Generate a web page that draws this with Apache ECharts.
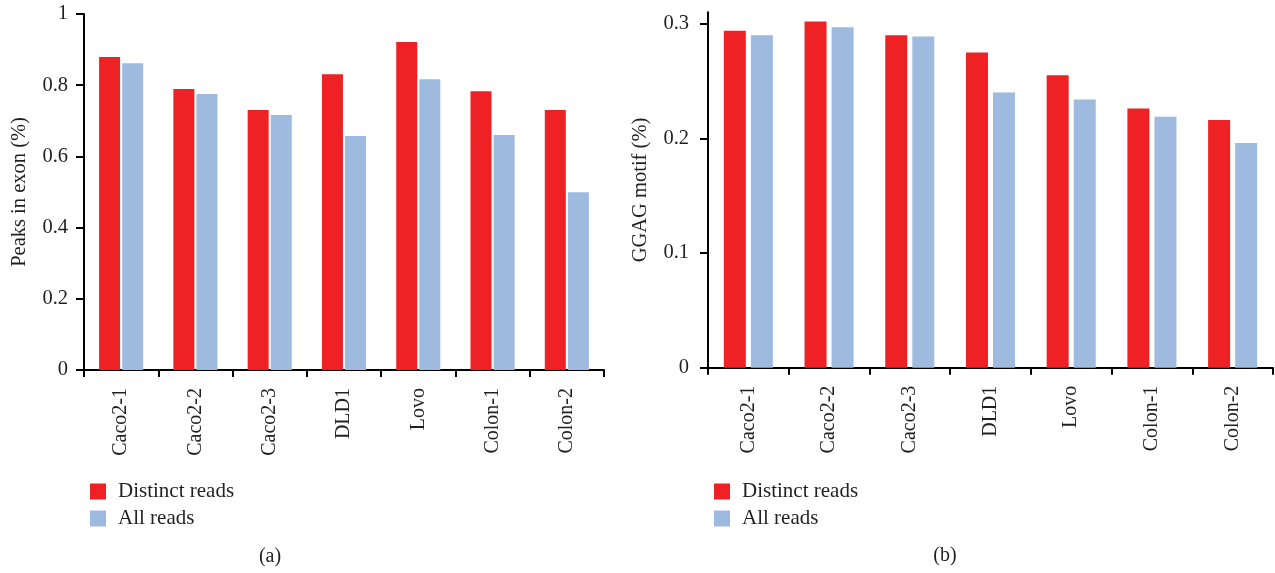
<!DOCTYPE html>
<html><head><meta charset="utf-8">
<script src="https://cdn.jsdelivr.net/npm/echarts@6/dist/echarts.min.js"></script>
<style>html,body{margin:0;padding:0;background:#fff}#c{width:1275px;height:573px}</style>
</head><body><div id="c"></div>
<script>
var categories = ['Caco2-1','Caco2-2','Caco2-3','DLD1','Lovo','Colon-1','Colon-2'];
var seriesNames = ['Distinct reads','All reads'];
var exonDistinct = [0.879,0.789,0.730,0.831,0.921,0.783,0.730];
var exonAll = [0.862,0.775,0.716,0.657,0.817,0.660,0.499];
var ggagDistinct = [0.294,0.302,0.290,0.275,0.255,0.226,0.216];
var ggagAll = [0.290,0.297,0.289,0.240,0.234,0.219,0.196];
var exonTicks = [0,0.2,0.4,0.6,0.8,1];
var ggagTicks = [0,0.1,0.2,0.3];

var RED = '#EE2225', BLUE = '#9EBADF', TXT = '#231F20';
var FONT = 'Liberation Serif';
var chart = echarts.init(document.getElementById('c'));

function xAx(idx){
  return {type:'category', gridIndex:idx, data:categories,
    axisLine:{lineStyle:{color:'#000',width:2}},
    axisTick:{show:true,length:7,lineStyle:{color:'#000',width:2}},
    axisLabel:{rotate:90,margin:18,color:TXT,fontFamily:FONT,fontSize:20}};
}
function yAx(idx,max,interval,name,ticks,margin,gap){
  return {type:'value', gridIndex:idx, min:0, max:max, interval:interval,
    name:name, nameLocation:'middle', nameGap:gap,
    nameTextStyle:{color:TXT,fontFamily:FONT,fontSize:20.5},
    splitLine:{show:false},
    axisLine:{show:true,lineStyle:{color:'#000',width:2}},
    axisTick:{show:true,length:8,customValues:ticks,lineStyle:{color:'#000',width:2}},
    axisLabel:{margin:margin,customValues:ticks,color:TXT,fontFamily:FONT,fontSize:20.5,
      formatter:function(v){ var r=Math.round(v*10)/10; return Math.abs(v-r)<1e-9 && ticks.indexOf(r)>=0 ? String(r) : ''; }}};
}
function leg(left){
  return {orient:'vertical', left:left, top:476, itemWidth:16, itemHeight:16, itemGap:6,
    icon:'rect', data:seriesNames,
    textStyle:{color:TXT,fontFamily:FONT,fontSize:21,padding:[0,0,0,7]}};
}

chart.setOption({
  animation:false,
  grid:[{left:84, top:14, width:520, height:356},
        {left:708, top:12.3, width:565, height:355.4}],
  xAxis:[xAx(0), xAx(1)],
  yAxis:[yAx(0,1,0.2,'Peaks in exon (%)',exonTicks,16,54),
         yAx(1,0.31,0.1,'GGAG motif (%)',ggagTicks,19,57)],
  legend:[leg(85), leg(709)],
  series:[
    {name:seriesNames[0], type:'bar', xAxisIndex:0, yAxisIndex:0, data:exonDistinct, barWidth:21, barGap:'10%', itemStyle:{color:RED}},
    {name:seriesNames[1], type:'bar', xAxisIndex:0, yAxisIndex:0, data:exonAll, barWidth:21, barGap:'10%', itemStyle:{color:BLUE}},
    {name:seriesNames[0], type:'bar', xAxisIndex:1, yAxisIndex:1, data:ggagDistinct, barWidth:22, barGap:'23%', itemStyle:{color:RED}},
    {name:seriesNames[1], type:'bar', xAxisIndex:1, yAxisIndex:1, data:ggagAll, barWidth:22, barGap:'23%', itemStyle:{color:BLUE}}
  ],
  graphic:[
    {type:'text', x:270, y:557, style:{text:'(a)', fill:TXT, font:'20px "Liberation Serif"', textAlign:'center', textVerticalAlign:'middle'}},
    {type:'text', x:945, y:556, style:{text:'(b)', fill:TXT, font:'20px "Liberation Serif"', textAlign:'center', textVerticalAlign:'middle'}}
  ]
});
</script></body></html>
